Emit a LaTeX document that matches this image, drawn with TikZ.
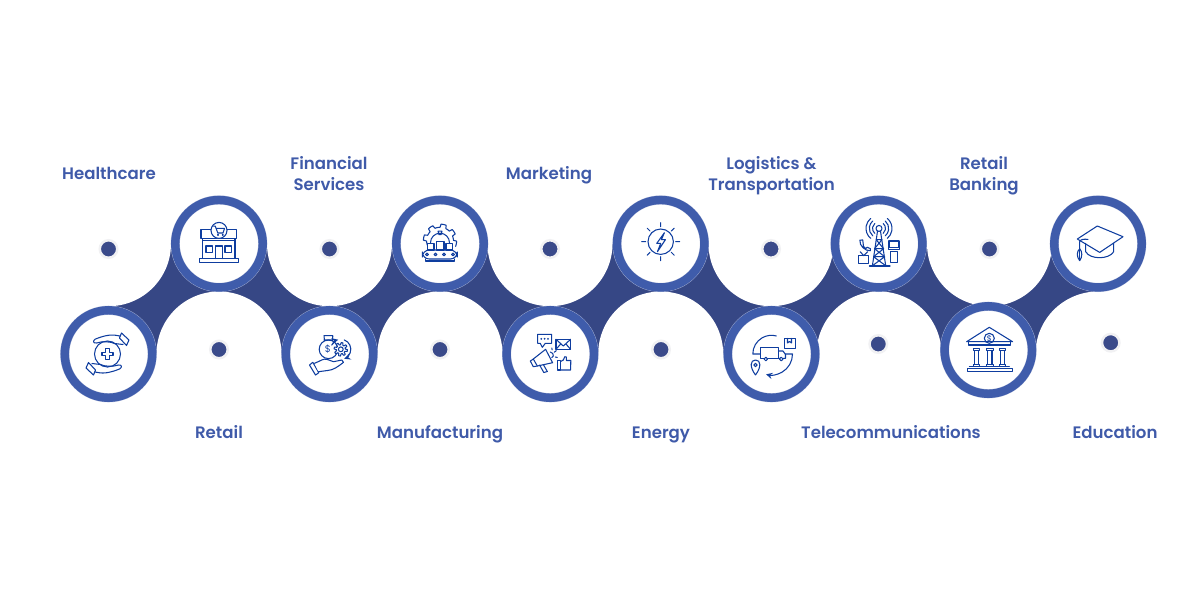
\documentclass[tikz,border=0pt]{standalone}
\usepackage{fontspec}
\setmainfont{Poppins}[BoldFont={Poppins SemiBold}]
\definecolor{ring blue}{HTML}{3F5CAB}
\definecolor{band blue}{HTML}{364785}
\definecolor{dot blue}{HTML}{3A4A8A}
\definecolor{dot halo}{HTML}{F1F1F3}
\definecolor{rim light}{HTML}{B4BEDC}
\definecolor{icon blue}{HTML}{0E3D9F}
\definecolor{sector text}{HTML}{3F5AA9}
\tikzset{ring/.style={circle, fill=white, draw=rim light, line width=.2pt,
        double=ring blue, double distance=.168cm, minimum size=1.75cm, inner sep=0pt},
    hub/.style={circle, fill=dot blue, draw=dot halo, line width=.05cm,
        minimum size=.35cm, inner sep=0pt},
    sector/.style={text=sector text, font=\bfseries\fontsize{9.45}{11.9}\selectfont, align=center,
        text height=7pt, text depth=2pt},
    icon/.style={draw=icon blue, line width=.6pt, line cap=round, line join=round},
    sign/.style={text=icon blue, inner sep=0pt}}
\def\gearplot{plot[variable=\t, domain=0:360, samples=97] (\t:{5.6+1.1*sign(sin(8*\t))}) -- cycle}
\def\healthhand{(12,-16) -- (14,-21) -- (21.5,-14) -- (19,-8.5) -- cycle
    (12.5,-18) .. controls (5,-20) and (-2,-19) .. (-12,-15)
    .. controls (-15,-13.5) and (-14.5,-10.5) .. (-11,-11)
    .. controls (-5,-13) and (3,-12.5) .. (7,-10.5) -- (15.5,-9.5)}
\def\sunrays{(0:15) -- (0:19) (45:15) -- (45:19) (90:15) -- (90:19) (135:15) -- (135:19)
    (180:15) -- (180:19) (225:15) -- (225:19) (270:15) -- (270:19) (315:15) -- (315:19)}
\def\bankcolumn{(-3.3,-1.7) rectangle (3.3,.3) (-2.2,.3) -- (-2.2,14.7) (2.2,.3) -- (2.2,14.7)
    (-3.3,14.7) rectangle (3.3,16.7)}
\usetikzlibrary{arrows}

\begin{document}
\begin{tikzpicture}[x=.02cm, y=-.02cm]
    \useasboundingbox (0,0) rectangle (1200,600);
    % band between the two rows
    \fill[band blue] (108.5,243.7) rectangle (1098,354);
    \fill[white] (108.5,243.7) circle (62.5) (329.5,243.7) circle (62.5)
        (550,243.7) circle (62.5) (771,243.7) circle (62.5) (989.5,243.7) circle (62.5);
    \fill[white] (219,354) circle (62.5) (440,354) circle (62.5)
        (660.7,354) circle (62.5) (879,354) circle (62.5) (1098,354) circle (62.5);

    \node[ring] (health ring)    at (108.5,354)   {};
    \node[ring] (retail ring)    at (219,243.7)   {};
    \node[ring] (finance ring)   at (329.5,354)   {};
    \node[ring] (factory ring)   at (440,243.7)   {};
    \node[ring] (market ring)    at (550.3,354)   {};
    \node[ring] (energy ring)    at (660.7,243.7) {};
    \node[ring] (logistics ring) at (771.5,354)   {};
    \node[ring] (telecom ring)   at (878.7,243.7) {};
    \node[ring] (bank ring)      at (988.3,350)   {};
    \node[ring] (school ring)    at (1098,243.7)  {};

    \node[hub] (health hub)    at (108.5,249)   {};
    \node[hub] (retail hub)    at (219,349.5)   {};
    \node[hub] (finance hub)   at (329.5,249)   {};
    \node[hub] (factory hub)   at (440,349.5)   {};
    \node[hub] (market hub)    at (550,249)     {};
    \node[hub] (energy hub)    at (661,349.5)   {};
    \node[hub] (logistics hub) at (771,249)     {};
    \node[hub] (telecom hub)   at (878.3,344)   {};
    \node[hub] (bank hub)      at (989.5,249)   {};
    \node[hub] (school hub)    at (1110.7,342.7) {};

    \node[sector] (health text)    at (109,175)  {Healthcare};
    \node[sector] (retail text)    at (219,434)  {Retail};
    \node[sector] (finance text)   at (329,186.5) {Financial\\Services};
    \node[sector] (factory text)   at (440,434)  {Manufacturing};
    \node[sector] (market text)    at (549,175)  {Marketing};
    \node[sector] (energy text)    at (661,434)  {Energy};
    \node[sector] (logistics text) at (771.5,186.5) {Logistics \&\\Transportation};
    \node[sector] (telecom text)   at (891,434)  {Telecommunications};
    \node[sector] (bank text)      at (984,186.5) {Retail\\Banking};
    \node[sector] (school text)    at (1115,434) {Education};

    % healthcare
    \begin{scope}[shift={(health ring)}, shift={(-1,0)}]
        \draw[icon] (0,0) circle (13);
        \draw[icon] (-1.7,-5.5) -- (1.7,-5.5) -- (1.7,-1.7) -- (5.5,-1.7) -- (5.5,1.7) -- (1.7,1.7)
            -- (1.7,5.5) -- (-1.7,5.5) -- (-1.7,1.7) -- (-5.5,1.7) -- (-5.5,-1.7) -- (-1.7,-1.7) -- cycle;
        \draw[icon] \healthhand;
        \draw[icon, rotate=180] \healthhand;
    \end{scope}
    % store
    \begin{scope}[shift={(retail ring)}]
        \draw[icon] (-19.7,15) rectangle (19.3,19);
        \draw[icon] (-16.3,-5.3) rectangle (16,15);
        \draw[icon] (-16.3,-3) -- (16,-3);
        \draw[icon] (-18,-14.3) rectangle (17.7,-5.3);
        \draw[icon] (-13,2.3) rectangle (-6.3,9) (6,2.3) rectangle (12.7,9) (-3.7,15) -- (-3.7,2.3) -- (3.3,2.3) -- (3.3,15);
        \draw[icon, fill=white] (0,-13.3) circle (8);
        \draw[icon] (-5.5,-17.5) -- (-3.7,-17.5) -- (-1.2,-10.7) -- (4,-10.7)
            (-3,-15.3) -- (5.5,-15.3) -- (4,-10.7) (-1,-8.8) circle (.5) (3.7,-8.8) circle (.5);
    \end{scope}
    % financial services
    \begin{scope}[shift={(finance ring)}]
        \draw[icon] (-1,-4.7) circle (9.3);
        \draw[icon] (-5,-13.5) -- (-5.5,-18.3) -- (3.3,-18.3) -- (3,-13.5) (-5.5,-14) -- (3.3,-14);
        \node[sign, font=\fontsize{5.5}{6}\selectfont] (money sign) at (-1.5,-4.7) {\$};
        \draw[icon, fill=white, shift={(11.3,-4.7)}] \gearplot;
        \draw[icon, shift={(11.3,-4.7)}] (0,0) circle (2.4);
        \draw[icon, ->, >=stealth, shift={(11.3,-4.7)}] (-70:10) arc[start angle=-70, end angle=70, radius=10];
        \draw[icon, ->, >=stealth, shift={(11.3,-4.7)}] (-155:10) arc[start angle=-155, end angle=-105, radius=10];
        \draw[icon, fill=white] (-20,11) -- (-16.7,8.3) -- (-10.7,18.7) -- (-14,21) -- cycle;
        \draw[icon, fill=white] (-15,9.3) .. controls (-9,7) and (-6,4) .. (-2,5.5) -- (4,7.7)
            -- (12.3,6) -- (14,8.3) .. controls (8,13) and (4,16) .. (-2,16.5) -- (-11,17.7);
    \end{scope}
    % manufacturing
    \begin{scope}[shift={(factory ring)}]
        \draw[icon, shift={(0,-3)}] plot[variable=\t, domain=-200:20, samples=61]
            (\t:{15+1.6*sign(sin(8*\t))});
        \draw[icon] (-9.5,-1) arc[start angle=180, end angle=360, radius=9.5];
        \draw[icon] (-2,-12.5) -- (2,-12.5) -- (1,-9) -- (-1,-9) -- cycle;
        \draw[icon, fill=white] (-12.7,-.3) rectangle (-6,6.3) (-3.3,-2) rectangle (4,6.3) (6,-.3) rectangle (12.7,6.3);
        \draw[icon, rounded corners=4pt] (-17.7,6.3) rectangle (17.3,15.3);
        \draw[icon] (-13,10.7) circle (1.4) (-4.5,10.7) circle (1.4) (4,10.7) circle (1.4) (13,10.7) circle (1.4);
        \draw[icon] (-14.5,15.3) -- (-14.5,17.3) -- (14.5,17.3) -- (14.5,15.3);
    \end{scope}
    % marketing
    \begin{scope}[shift={(market ring)}]
        \draw[icon] (-12.7,-19.7) -- (1.3,-19.7) -- (1.3,-10.7) -- (-5,-10.7) -- (-8,-6.7) -- (-10,-10.7)
            -- (-12.7,-10.7) -- cycle;
        \fill[icon blue] (-9,-15.2) circle (1) (-5.7,-15.2) circle (1) (-2.3,-15.2) circle (1);
        \draw[icon] (5.7,-14.7) rectangle (20.3,-4.7);
        \draw[icon] (5.7,-14.7) -- (13,-8) -- (20.3,-14.7) (5.7,-4.7) -- (10.5,-10.2) (20.3,-4.7) -- (15.5,-10.2);
        \draw[icon] (-4.7,-4.7) -- (2.3,8.7) -- (-13,12) -- (-17,5) -- cycle;
        \draw[icon] (-17,5) -- (-20,7) -- (-17,12.7) -- (-13,12);
        \draw[icon] (-10.7,11) -- (-6.5,18.5) -- (-3,17.5) -- (-7,10.5);
        \draw[icon] (0,-2) -- (2.5,-.5) -- (3,2) -- (1.5,3.5);
        \draw[icon] (1.5,-6) -- (1.8,-4.2) (4,-1.7) -- (6,-3.4) (5,3) -- (7,3.4);
        \draw[icon] (7,6.7) rectangle (10.3,16);
        \draw[icon] (10.3,7.5) -- (13,6) -- (14.5,2.7) -- (16,3) -- (16,6.5) -- (20.5,6.5) -- (20.3,16) -- (10.3,16);
    \end{scope}
    % energy
    \begin{scope}[shift={(energy ring)}, shift={(0,-2)}]
        \draw[icon] (0,0) circle (12.7);
        \draw[icon] \sunrays;
        \draw[icon] (3.7,-9) -- (-4,1.7) -- (0,1.7) -- (-3.3,10) -- (4.7,-2) -- (.7,-2) -- cycle;
    \end{scope}
    % logistics
    \begin{scope}[shift={(logistics ring)}]
        \draw[icon] (-11.3,-6.3) rectangle (7,4.3);
        \draw[icon] (7,-3) -- (11.5,-3) -- (14,.5) -- (14,4.3) -- (7,4.3);
        \draw[icon, fill=white] (-5.7,5) circle (1.8) (9.7,5) circle (1.8);
        \draw[icon] (12.7,-15.7) rectangle (23.7,-5.7);
        \draw[icon] (16,-15.7) -- (16,-11) -- (18,-12.5) -- (20,-11) -- (20,-15.7);
        \draw[icon] (-11.3,0) -- (-18.7,0) arc[start angle=180, end angle=285, radius=18.7];
        \draw[icon, ->, >=stealth] (14,0) -- (21,0) arc[start angle=0, end angle=105, radius=21];
        \draw[icon] (-16,21) .. controls (-22,13) and (-21.5,6) .. (-16,6) .. controls (-10.5,6) and (-10,13) .. (-16,21);
        \draw[icon] (-16,11) circle (1.7);
    \end{scope}
    % telecommunications
    \begin{scope}[shift={(telecom ring)}]
        \draw[icon] (-9.3,22.3) -- (11.3,22.3);
        \draw[icon] (-1.2,-12.5) -- (-6.3,22) (1.8,-12.5) -- (7,22);
        \draw[icon] (-2.5,-4) -- (3.2,-4) -- (-4.2,5) -- (4.9,5) -- (-5.2,13) -- (6,13) -- (-6.3,22)
            (-2.5,-4) -- (4.9,5) -- (-4.2,5) -- (6,13) -- (-5.2,13) -- (7,22);
        \draw[icon] (.3,-15.3) circle (3);
        \begin{scope}[shift={(.3,-15.3)}]
            \draw[icon] (-50:6.5) arc[start angle=-50, end angle=50, radius=6.5]
                (-50:9.7) arc[start angle=-50, end angle=50, radius=9.7]
                (-50:13) arc[start angle=-50, end angle=50, radius=13];
            \draw[icon] (130:6.5) arc[start angle=130, end angle=230, radius=6.5]
                (130:9.7) arc[start angle=130, end angle=230, radius=9.7]
                (130:13) arc[start angle=130, end angle=230, radius=13];
        \end{scope}
        \draw[icon] (-18.8,-3.5) .. controls (-19.5,2) and (-13.5,7.5) .. (-8.3,7) -- (-8.3,5) -- (-11.5,3.5)
            -- (-13,5) .. controls (-15,3.5) and (-16,2) .. (-15.5,0) -- (-16,-3.8) -- cycle;
        \draw[icon] (-20,12) rectangle (-10,19.5);
        \draw[icon] (-15,12) -- (-18.5,8) (-15,12) -- (-11,8);
        \draw[icon] (10.3,-2.7) rectangle (20.3,3.5) (9.7,3.5) rectangle (21,6);
        \draw[icon] (11.7,8) rectangle (19,19);
    \end{scope}
    % bank
    \begin{scope}[shift={(bank ring)}]
        \draw[icon] (-21.7,-8.3) -- (1,-22.7) -- (24.3,-8.3) (-21,-8.3) -- (23.5,-8.3);
        \draw[icon] (-20,-8.3) -- (-20,-5) -- (22.3,-5) -- (22.3,-8.3);
        \draw[icon] (1,-11.7) circle (5);
        \node[sign, font=\fontsize{4.5}{5}\selectfont] (bank sign) at (1,-11.7) {\$};
        \draw[icon, shift={(-11.7,0)}] \bankcolumn;
        \draw[icon, shift={(1.5,0)}] \bankcolumn;
        \draw[icon, shift={(14.3,0)}] \bankcolumn;
        \draw[icon] (-19,16.7) -- (21,16.7) (-21,18.3) rectangle (24.3,21.7);
    \end{scope}
    % education
    \begin{scope}[shift={(school ring)}]
        \draw[icon] (-.7,-17.7) -- (25,-7) -- (1.7,8.7) -- (-20.7,-4.7) -- cycle;
        \draw[icon] (-12.3,-.3) -- (-12.3,8) .. controls (-8,16) and (11,16) .. (15.7,8) -- (15.7,-.3);
        \draw[icon] (-10,-4.3) .. controls (-14,-5) and (-18.3,-4) .. (-18.3,-2) -- (-18.3,5);
        \draw[icon] (-18.3,5) .. controls (-21.5,8) and (-21.5,13) .. (-18.3,17) .. controls (-15.5,13) and (-15.5,8) .. (-18.3,5);
        \draw[icon] (-18.3,6) -- (-18.3,16);
    \end{scope}
\end{tikzpicture}
\end{document}
